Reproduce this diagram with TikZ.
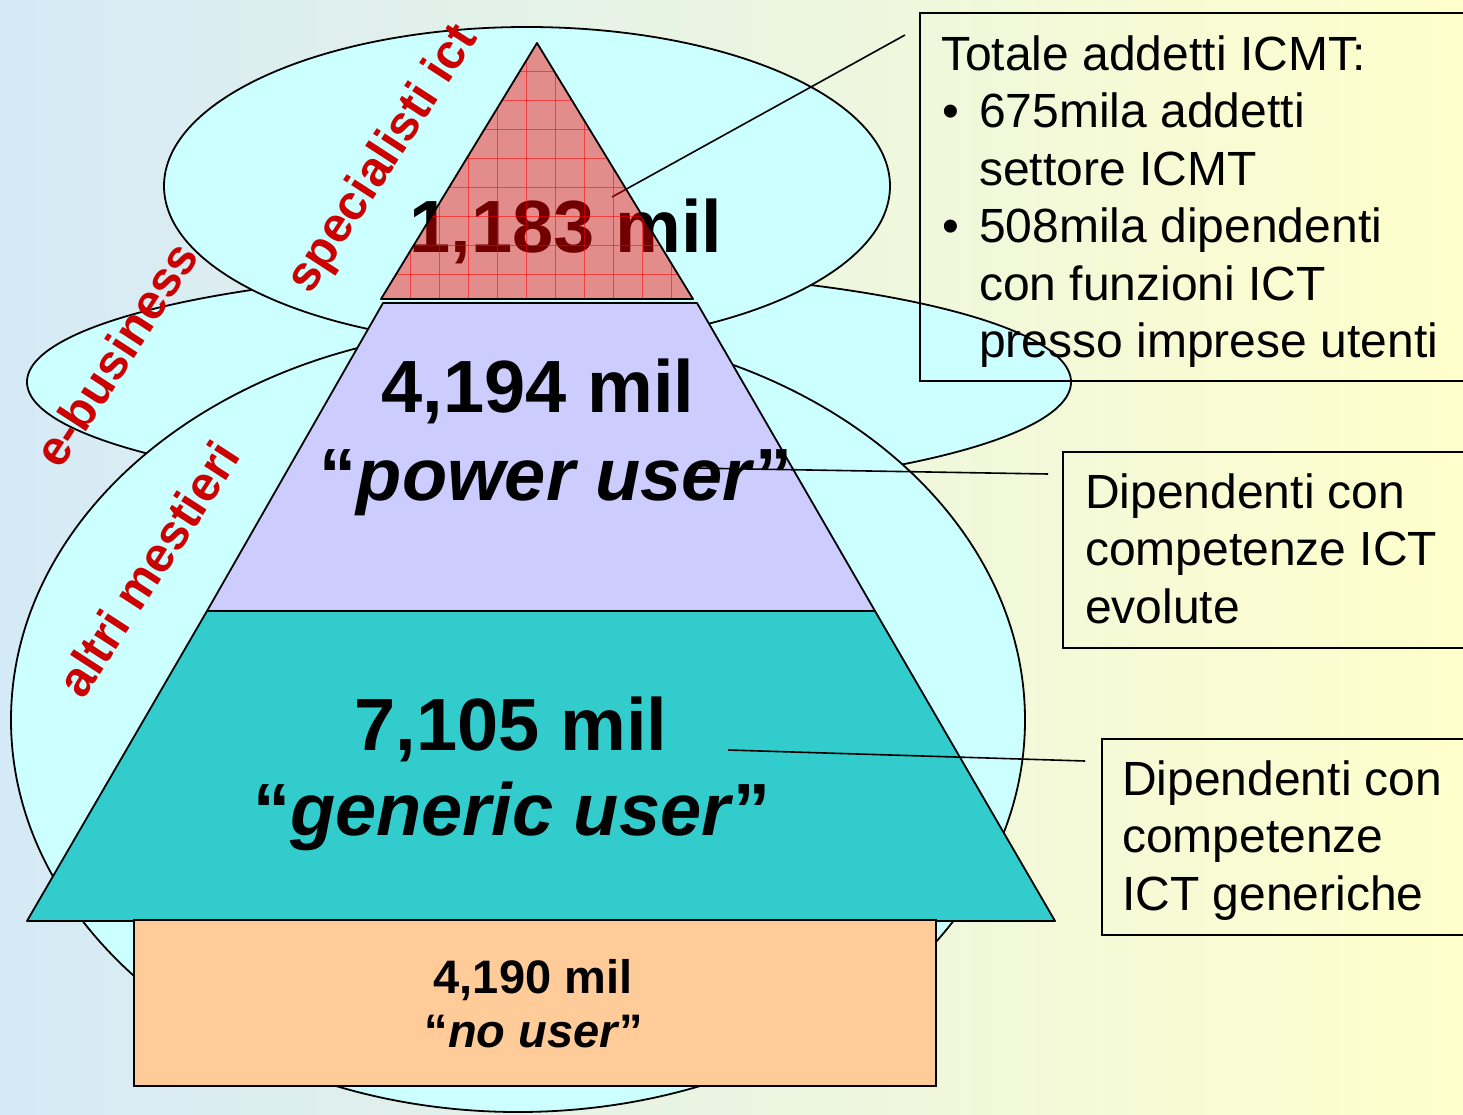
\documentclass[tikz,border=0pt]{standalone}
\usepackage{fontspec}
\setmainfont{Liberation Sans}
\usetikzlibrary{positioning}

\definecolor{bgBlue}{RGB}{213,234,247}
\definecolor{bgYellow}{RGB}{255,255,204}
\definecolor{areaCyan}{RGB}{204,255,255}
\definecolor{powerLilac}{RGB}{204,204,255}
\definecolor{genericTeal}{RGB}{51,204,204}
\definecolor{noUserPeach}{RGB}{255,204,153}
\definecolor{areaRed}{RGB}{204,0,0}

\newcommand{\bulletItem}{\makebox[38pt][l]{\hspace{1pt}•}}
\newcommand{\bulletIndent}{\hspace*{38pt}}

\begin{document}
\begin{tikzpicture}[x=1pt,y=-1pt,
    areaEllipse/.style={draw,line width=1.8pt,fill=areaCyan},
    areaLabel/.style={font=\fontsize{49}{56}\selectfont\bfseries,text=areaRed,rotate=57,inner sep=0pt},
    layerShape/.style={draw,line width=1.8pt,line join=round},
    gridLine/.style={draw=red,line width=1pt,opacity=0.55},
    bigCount/.style={font=\fontsize{74}{88}\selectfont\bfseries,anchor=base,inner sep=0pt},
    smallCount/.style={font=\fontsize{47}{54}\selectfont\bfseries,anchor=base,inner sep=0pt},
    noteBox/.style={draw,line width=1.8pt,anchor=north west,inner sep=0pt},
    noteText/.style={font=\fontsize{48}{57.5}\selectfont,anchor=base west,align=left,inner sep=0pt},
    connector/.style={line width=1.6pt},
  ]
  \useasboundingbox (0,0) rectangle (1463,1115);
  \shade[left color=bgBlue,right color=bgYellow] (0,0) rectangle (1463,1115);

  % aree di competenza
  \draw[areaEllipse] (549,382) ellipse [x radius=522,y radius=112];
  \draw[areaEllipse] (518,720) ellipse [x radius=507,y radius=392];
  \draw[areaEllipse] (527,186) ellipse [x radius=363,y radius=159];

  \node[areaLabel] (specialisti) at (384,160) {specialisti ict};
  \node[areaLabel] (ebusiness) at (116,354) {e-business};
  \node[areaLabel] (mestieri) at (148,569) {altri mestieri};

  % piramide
  \draw[layerShape,fill=powerLilac] (383,303) -- (697,303) -- (875,611) -- (207,611) -- cycle;
  \draw[layerShape,fill=genericTeal] (207,611) -- (875,611) -- (1055,921) -- (27,921) -- cycle;
  \node[noteBox,fill=noUserPeach,minimum width=802pt,minimum height=166pt] (noUserBox) at (133,919) {};

  \node[bigCount] (topCount) at (566,252) {1,183 mil};
  \node[bigCount] (powerCount) at (538,412) {4,194 mil};
  \node[bigCount] (powerName) at (556,500) {“\textit{power user}”};
  \node[bigCount] (genericCount) at (511,750) {7,105 mil};
  \node[bigCount] (genericName) at (512,835) {“\textit{generic user}”};
  \node[smallCount] (noUserCount) at (533,993) {4,190 mil};
  \node[smallCount] (noUserName) at (534,1047) {“\textit{no user}”};

  % riquadri di commento
  \node[noteBox,minimum width=560pt,minimum height=368pt] (icmtBox) at (919,12) {};
  \node[noteBox,minimum width=420pt,minimum height=196pt] (evoluteBox) at (1062,451) {};
  \node[noteBox,minimum width=380pt,minimum height=196pt] (genericheBox) at (1101,738) {};

  \coordinate (topTip) at (612,197);
  \coordinate (powerTip) at (690,468);
  \coordinate (genericTip) at (728,750);
  \draw[connector] (topTip) -- ([xshift=-14pt,yshift=-23pt]icmtBox.north west);
  \draw[connector] (powerTip) -- ([xshift=-14pt,yshift=-23pt]evoluteBox.north west);
  \draw[connector] (genericTip) -- ([xshift=-16pt,yshift=-23pt]genericheBox.north west);

  % vertice: specialisti
  \fill[red,fill opacity=0.45] (537,43) -- (693,299) -- (381,299) -- cycle;
  \begin{scope}
    \clip (537,43) -- (693,299) -- (381,299) -- cycle;
    \foreach \gx in {410,439,...,672} \draw[gridLine] (\gx,40) -- (\gx,300);
    \foreach \gy in {71.7,100.7,...,276} \draw[gridLine] (370,\gy) -- (700,\gy);
  \end{scope}
  \draw[layerShape] (537,43) -- (693,299) -- (381,299) -- cycle;

  % testo ancorato sull'ultima riga
  \node[noteText] (icmtText) at ([xshift=22pt,yshift=-345.5pt]icmtBox.north west)
    {Totale addetti ICMT:\\
     \bulletItem 675mila addetti\\
     \bulletIndent settore ICMT\\
     \bulletItem 508mila dipendenti\\
     \bulletIndent con funzioni ICT\\
     \bulletIndent presso imprese utenti};
  \node[noteText] (evoluteText) at ([xshift=23pt,yshift=-172pt]evoluteBox.north west)
    {Dipendenti con\\ competenze ICT\\ evolute};
  \node[noteText] (genericheText) at ([xshift=21pt,yshift=-172pt]genericheBox.north west)
    {Dipendenti con\\ competenze\\ ICT generiche};

\end{tikzpicture}
\end{document}
